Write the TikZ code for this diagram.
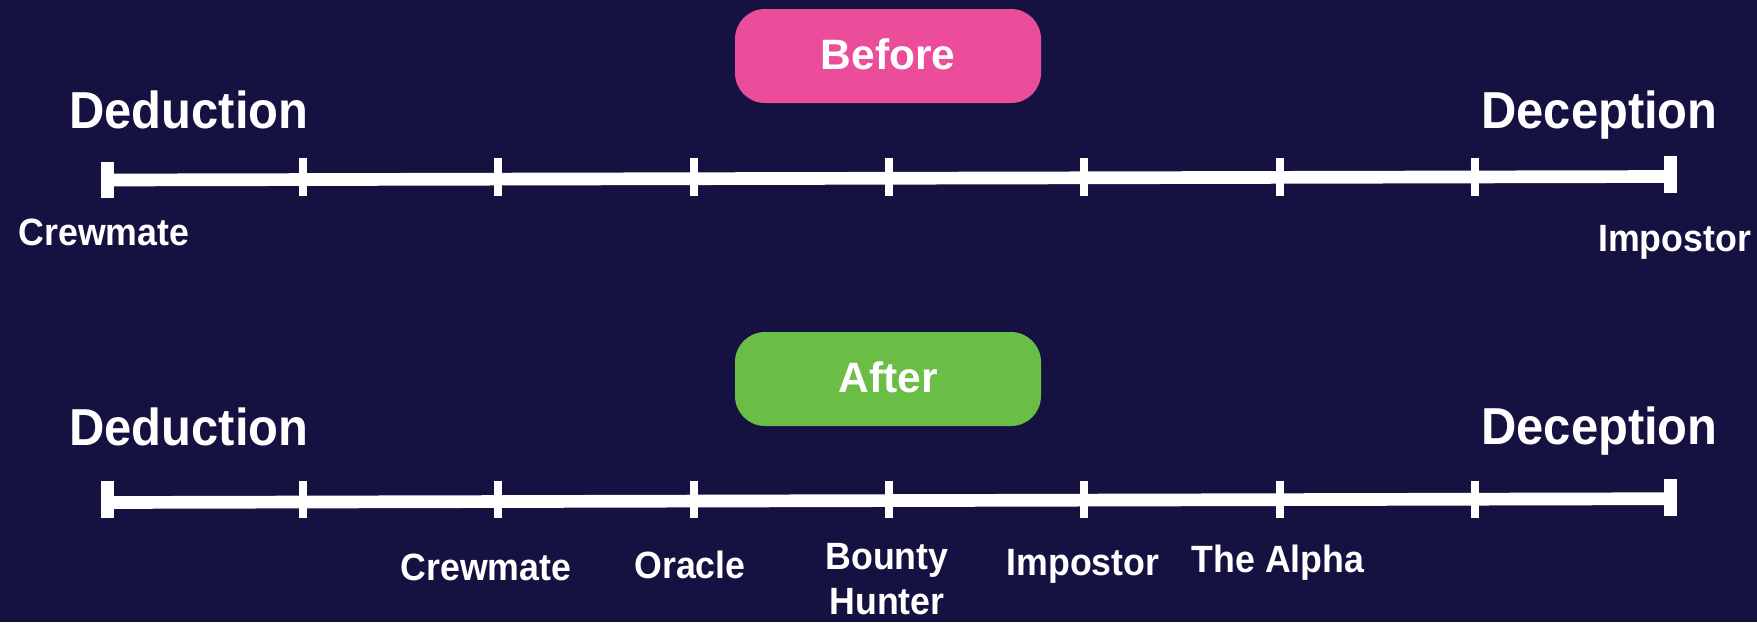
\documentclass[tikz,border=0pt]{standalone}
\usepackage{fontspec}
\setmainfont{Liberation Sans}
\newfontfamily\condfont[FakeStretch=0.94]{Liberation Sans}
\definecolor{bg}{HTML}{151242}
\definecolor{pinkbox}{HTML}{EC4D9A}
\definecolor{greenbox}{HTML}{6ABD45}
\begin{document}
\begin{tikzpicture}[x=1pt,y=-1pt,
  bigtitle/.style={text=white, inner sep=0pt, anchor=base, font=\condfont\bfseries\fontsize{52}{60}\selectfont},
  rolelabel/.style={text=white, inner sep=0pt, anchor=base, font=\condfont\bfseries\fontsize{38}{45}\selectfont},
  phasebox/.style={rounded corners=30pt, minimum width=306pt, minimum height=94pt, inner sep=0pt, text=white, text height=31pt, text depth=5pt, font=\bfseries\fontsize{42.5}{50}\selectfont},
  axisline/.style={white, line width=12.7pt},
  tickmark/.style={white, line width=8pt},
  endcap/.style={white, line width=13.5pt},
]
\fill[bg] (0,0) rectangle (1757,622);
\useasboundingbox (0,0) rectangle (1757,622);

% ---------- Before ----------
\node[phasebox, fill=pinkbox] (before) at (888,56) {Before};
\node[bigtitle] (dedA) at (189,128) {Deduction};
\node[bigtitle] (decA) at (1599.5,128) {Deception};

\coordinate (aL) at (107.7,180);
\coordinate (aR) at (1670.3,176.5);
\draw[axisline] (aL) -- (aR);
\draw[endcap] (107.7,161.7) -- (107.7,198.3);
\draw[endcap] (1670.3,156) -- (1670.3,193.3);
\foreach \k in {1,...,7}{
  \draw[tickmark] ({107.7+195.33*\k},158.3) -- ({107.7+195.33*\k},195.7);
}
\node[rolelabel] (crewA) at (104,245) {Crewmate};
\node[rolelabel] (impA) at (1674.5,251.5) {Impostor};

% ---------- After ----------
\node[phasebox, fill=greenbox] (after) at (888,379) {After};
\node[bigtitle] (dedB) at (189,445) {Deduction};
\node[bigtitle] (decB) at (1599.5,444.5) {Deception};

\coordinate (bL) at (107.7,502.5);
\coordinate (bR) at (1670.3,498.7);
\draw[axisline] (bL) -- (bR);
\draw[endcap] (107.7,481) -- (107.7,518.3);
\draw[endcap] (1670.3,479.3) -- (1670.3,516);
\foreach \k in {1,...,7}{
  \draw[tickmark] ({107.7+195.33*\k},481) -- ({107.7+195.33*\k},518.3);
}
\node[rolelabel] (crewB) at (486,580) {Crewmate};
\node[rolelabel] (oracleB) at (690,578) {Oracle};
\node[rolelabel, anchor=north, align=center] (bountyB) at (887,543) {Bounty\\Hunter};
\node[rolelabel] (impB) at (1083,575) {Impostor};
\node[rolelabel] (alphaB) at (1278,572) {The Alpha};
\end{tikzpicture}
\end{document}
